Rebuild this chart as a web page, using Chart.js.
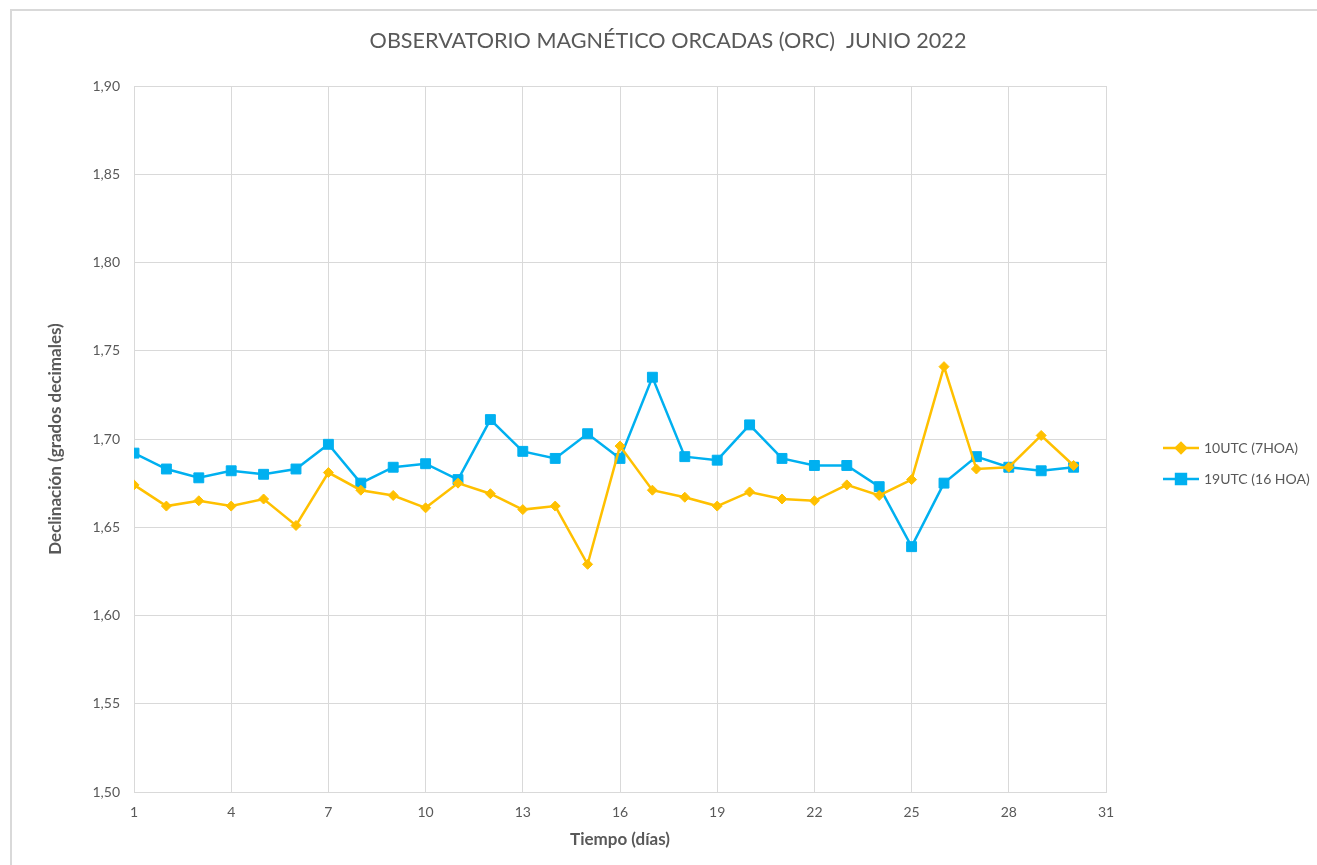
<!DOCTYPE html>
<html>
<head>
<meta charset="utf-8">
<script src="https://cdn.jsdelivr.net/npm/chart.js@4/dist/chart.umd.min.js"></script>
<style>
  body { margin: 0; background: #fff; overflow: hidden; }
  #wrap { position: relative; width: 1317px; height: 865px; }
  #frame { position: absolute; left: 10px; top: 9px; width: 1400px; height: 900px;
           border-left: 2px solid #d9d9d9; border-top: 2px solid #d9d9d9; pointer-events: none; }
  canvas { position: absolute; left: 0; top: 0; }
</style>
</head>
<body>
<div id="wrap">
  <canvas id="orcChart" width="1317" height="865"></canvas>
  <div id="frame"></div>
</div>
<script>
// datos de junio 2022
const days = [1, 2, 3, 4, 5, 6, 7, 8, 9, 10, 11, 12, 13, 14, 15, 16, 17, 18, 19, 20, 21, 22, 23, 24, 25, 26, 27, 28, 29, 30];
const utc10 = [1.674, 1.662, 1.665, 1.662, 1.666, 1.651, 1.681, 1.671, 1.668, 1.661,
               1.675, 1.669, 1.660, 1.662, 1.629, 1.696, 1.671, 1.667, 1.662, 1.670,
               1.666, 1.665, 1.674, 1.668, 1.677, 1.741, 1.683, 1.684, 1.702, 1.685];
const utc19 = [1.692, 1.683, 1.678, 1.682, 1.680, 1.683, 1.697, 1.675, 1.684, 1.686,
               1.677, 1.711, 1.693, 1.689, 1.703, 1.689, 1.735, 1.690, 1.688, 1.708,
               1.689, 1.685, 1.685, 1.673, 1.639, 1.675, 1.690, 1.684, 1.682, 1.684];
const xTicks = [1, 4, 7, 10, 13, 16, 19, 22, 25, 28, 31];
const seriesNames = ['10UTC (7HOA)', '19UTC (16 HOA)'];

const FONT = 'Lato, "Open Sans", sans-serif';
const TXT = '#595959';
const GRID = '#d9d9d9';
const ORANGE = '#FFC000';
const BLUE = '#00B0F0';

function toPoints(vals) {
    return days.map((d, i) => ({ x: d, y: vals[i] }));
}

// titulo y leyenda dibujados sobre el canvas
const decorPlugin = {
    id: 'decor',
    afterDraw(chart) {
        const ctx = chart.ctx;
        const area = chart.chartArea;
        ctx.save();
        ctx.fillStyle = TXT;
        ctx.font = '21.6px ' + FONT;
        ctx.textAlign = 'center';
        ctx.textBaseline = 'middle';
        ctx.fillText('OBSERVATORIO MAGNÉTICO ORCADAS (ORC)  JUNIO 2022', 668, 41);

        const items = [
            { label: seriesNames[0], color: ORANGE, style: 'rectRot', r: 5 },
            { label: seriesNames[1], color: BLUE, style: 'rect', r: 7 }
        ];
        const x0 = area.right + 57;
        items.forEach((it, i) => {
            const y = area.top + 362 + i * 31;
            ctx.strokeStyle = it.color;
            ctx.lineWidth = 2.5;
            ctx.beginPath();
            ctx.moveTo(x0, y);
            ctx.lineTo(x0 + 36, y);
            ctx.stroke();
            ctx.fillStyle = it.color;
            Chart.helpers.drawPoint(ctx, { pointStyle: it.style, radius: it.r, borderWidth: 1, rotation: 0 }, x0 + 18, y);
            ctx.fill();
            ctx.fillStyle = TXT;
            ctx.font = '14px ' + FONT;
            ctx.textAlign = 'left';
            ctx.fillText(it.label, x0 + 41, y);
        });
        ctx.restore();
    }
};

const ctx = document.getElementById('orcChart').getContext('2d');
new Chart(ctx, {
    type: 'line',
    data: {
        datasets: [{
            label: seriesNames[0],
            data: toPoints(utc10),
            borderColor: ORANGE,
            backgroundColor: ORANGE,
            borderWidth: 2.5,
            pointStyle: 'rectRot',
            pointRadius: 5,
            pointBorderWidth: 1,
            tension: 0
        }, {
            label: seriesNames[1],
            data: toPoints(utc19),
            borderColor: BLUE,
            backgroundColor: BLUE,
            borderWidth: 2.5,
            pointStyle: 'rect',
            pointRadius: 7,
            pointBorderWidth: 1,
            tension: 0
        }]
    },
    options: {
        responsive: false,
        animation: false,
        layout: { padding: { left: 10, top: 86, right: 211, bottom: 0 } },
        plugins: {
            legend: { display: false },
            title: { display: false },
            tooltip: { enabled: false }
        },
        scales: {
            x: {
                type: 'linear',
                min: 1,
                max: 31,
                afterFit: s => { s.height = 73; },
                afterBuildTicks: s => { s.ticks = xTicks.map(v => ({ value: v })); },
                ticks: { color: TXT, font: { family: FONT, size: 14 }, padding: 12, autoSkip: false, maxRotation: 0 },
                grid: { color: GRID, drawTicks: false },
                border: { color: GRID },
                title: { display: true, text: 'Tiempo (días)', color: TXT,
                         font: { family: FONT, size: 17, weight: 'bold' }, padding: { top: 0, bottom: 15 } }
            },
            y: {
                min: 1.5,
                max: 1.9,
                afterFit: s => { s.width = 124; },
                ticks: {
                    stepSize: 0.05,
                    color: TXT,
                    font: { family: FONT, size: 14 },
                    padding: 14,
                    callback: v => v.toFixed(2).replace('.', ',')
                },
                grid: { color: GRID, drawTicks: false },
                border: { color: GRID },
                title: { display: true, text: 'Declinación (grados decimales)', color: TXT,
                         font: { family: FONT, size: 17, weight: 'bold' }, padding: { top: 35, bottom: 0 } }
            }
        }
    },
    plugins: [decorPlugin]
});
</script>
</body>
</html>
